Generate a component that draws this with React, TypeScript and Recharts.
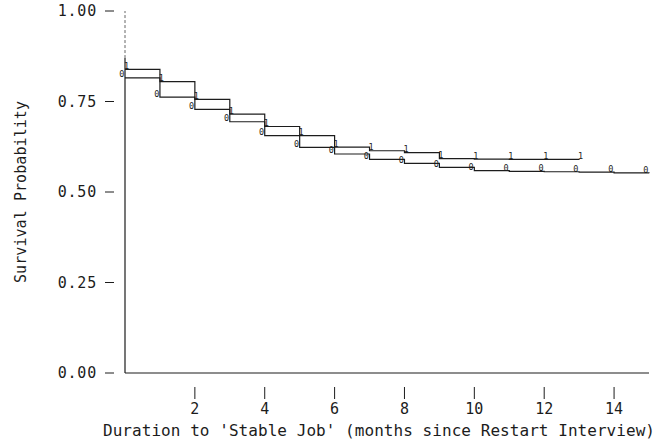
import React from 'react';
import { LineChart, Line, XAxis, YAxis, ReferenceLine, Label } from 'recharts';

// Months since Restart interview (step positions)
const months = [0, 1, 2, 3, 4, 5, 6, 7, 8, 9, 10, 11, 12, 13, 14, 15];
// Group "1" survival estimates (upper curve)
const group1 = [0.839, 0.805, 0.756, 0.715, 0.681, 0.656, 0.624, 0.614, 0.609, 0.592, 0.591, 0.59, 0.59, 0.589];
// Group "0" survival estimates (lower curve)
const group0 = [0.815, 0.762, 0.728, 0.694, 0.656, 0.623, 0.605, 0.59, 0.579, 0.568, 0.559, 0.557, 0.556, 0.555, 0.553, 0.552];

const xTicks = [2, 4, 6, 8, 10, 12, 14];
const yTicks = [0, 0.25, 0.5, 0.75, 1];
const yTickLabels = ['0.00', '0.25', '0.50', '0.75', '1.00'];
const xTitle = "Duration to 'Stable Job' (months since Restart Interview)";
const yTitle = 'Survival Probability';

const rows = months.map((m, i) => ({
  month: m,
  g1: i < group1.length ? group1[i] : null,
  g0: i < group0.length ? group0[i] : null,
}));

const FONT = "'DejaVu Sans Mono', 'Liberation Mono', monospace";
const INK = '#1c1c1c';

const XTick = (props: any) => {
  const { x, y, payload } = props;
  return (
    <g>
      <line x1={x} x2={x} y1={y + 14} y2={y + 26} stroke={INK} strokeWidth={1} />
      <text x={x} y={y + 41} textAnchor="middle" fontFamily={FONT} fontSize={15} fill={INK}>
        {payload.value}
      </text>
    </g>
  );
};

const YTick = (props: any) => {
  const { x, y, payload } = props;
  const idx = yTicks.indexOf(payload.value);
  return (
    <g>
      <line x1={x - 20} x2={x - 11} y1={y} y2={y} stroke={INK} strokeWidth={1} />
      <text
        x={x - 28}
        y={y}
        textAnchor="end"
        dominantBaseline="central"
        fontFamily={FONT}
        fontSize={15}
        fill={INK}
        letterSpacing={0.8}
      >
        {idx >= 0 ? yTickLabels[idx] : payload.value}
      </text>
    </g>
  );
};

const makeMarker = (ch: string, dx: number) => (props: any) => {
  const { cx, cy, value, index } = props;
  if (value == null || cx == null || cy == null || isNaN(cy)) {
    return <g key={`${ch}-e-${index}`} />;
  }
  return (
    <text
      key={`${ch}-${index}`}
      x={cx + dx}
      y={cy - 0.5}
      textAnchor="middle"
      fontFamily={FONT}
      fontSize={8.5}
      fill={INK}
    >
      {ch}
    </text>
  );
};

const XTitle = (props: any) => {
  const vb = props.viewBox || { x: 125, y: 373, width: 524, height: 60 };
  return (
    <text
      x={vb.x + vb.width / 2 - 8}
      y={vb.y + 63}
      textAnchor="middle"
      fontFamily={FONT}
      fontSize={16}
      fill={INK}
      textLength={552}
      lengthAdjust="spacing"
    >
      {xTitle}
    </text>
  );
};

const YTitle = (props: any) => {
  const vb = props.viewBox || { x: 0, y: 11, width: 125, height: 362 };
  const cx = vb.x + 21;
  const cy = vb.y + vb.height / 2;
  return (
    <text
      x={cx}
      y={cy}
      transform={`rotate(-90 ${cx} ${cy})`}
      textAnchor="middle"
      dominantBaseline="central"
      fontFamily={FONT}
      fontSize={15}
      fill={INK}
      textLength={182}
      lengthAdjust="spacing"
    >
      {yTitle}
    </text>
  );
};

export default function App() {
  return (
    <div style={{ position: 'absolute', left: 0, top: 0, width: 657, height: 447, background: '#fff' }}>
      <LineChart width={657} height={447} data={rows} margin={{ top: 11, right: 8, bottom: 14, left: 0 }}>
        <XAxis
          dataKey="month"
          type="number"
          domain={[0, 15]}
          ticks={xTicks}
          interval={0}
          tickLine={false}
          tickSize={0}
          tickMargin={0}
          tick={<XTick />}
          axisLine={{ stroke: INK, strokeWidth: 1.2 }}
          height={60}
        >
          <Label content={<XTitle />} position="insideBottom" />
        </XAxis>
        <YAxis
          type="number"
          domain={[0, 1]}
          ticks={yTicks}
          interval={0}
          width={125}
          axisLine={false}
          tickLine={false}
          tickSize={0}
          tickMargin={0}
          tick={<YTick />}
        >
          <Label content={<YTitle />} position="insideLeft" />
        </YAxis>
        <ReferenceLine
          segment={[{ x: 0, y: 0 }, { x: 0, y: 0.87 }]}
          stroke={INK}
          strokeWidth={1.2}
        />
        <ReferenceLine
          segment={[{ x: 0, y: 0.87 }, { x: 0, y: 1 }]}
          stroke="#666"
          strokeWidth={1}
          strokeDasharray="3 2"
        />
        <Line
          dataKey="g1"
          type="stepAfter"
          stroke={INK}
          strokeWidth={1.2}
          dot={makeMarker('1', 1.5)}
          activeDot={false}
          connectNulls={false}
          isAnimationActive={false}
        />
        <Line
          dataKey="g0"
          type="stepAfter"
          stroke={INK}
          strokeWidth={1.2}
          dot={makeMarker('0', -3.2)}
          activeDot={false}
          connectNulls={false}
          isAnimationActive={false}
        />
      </LineChart>
    </div>
  );
}
